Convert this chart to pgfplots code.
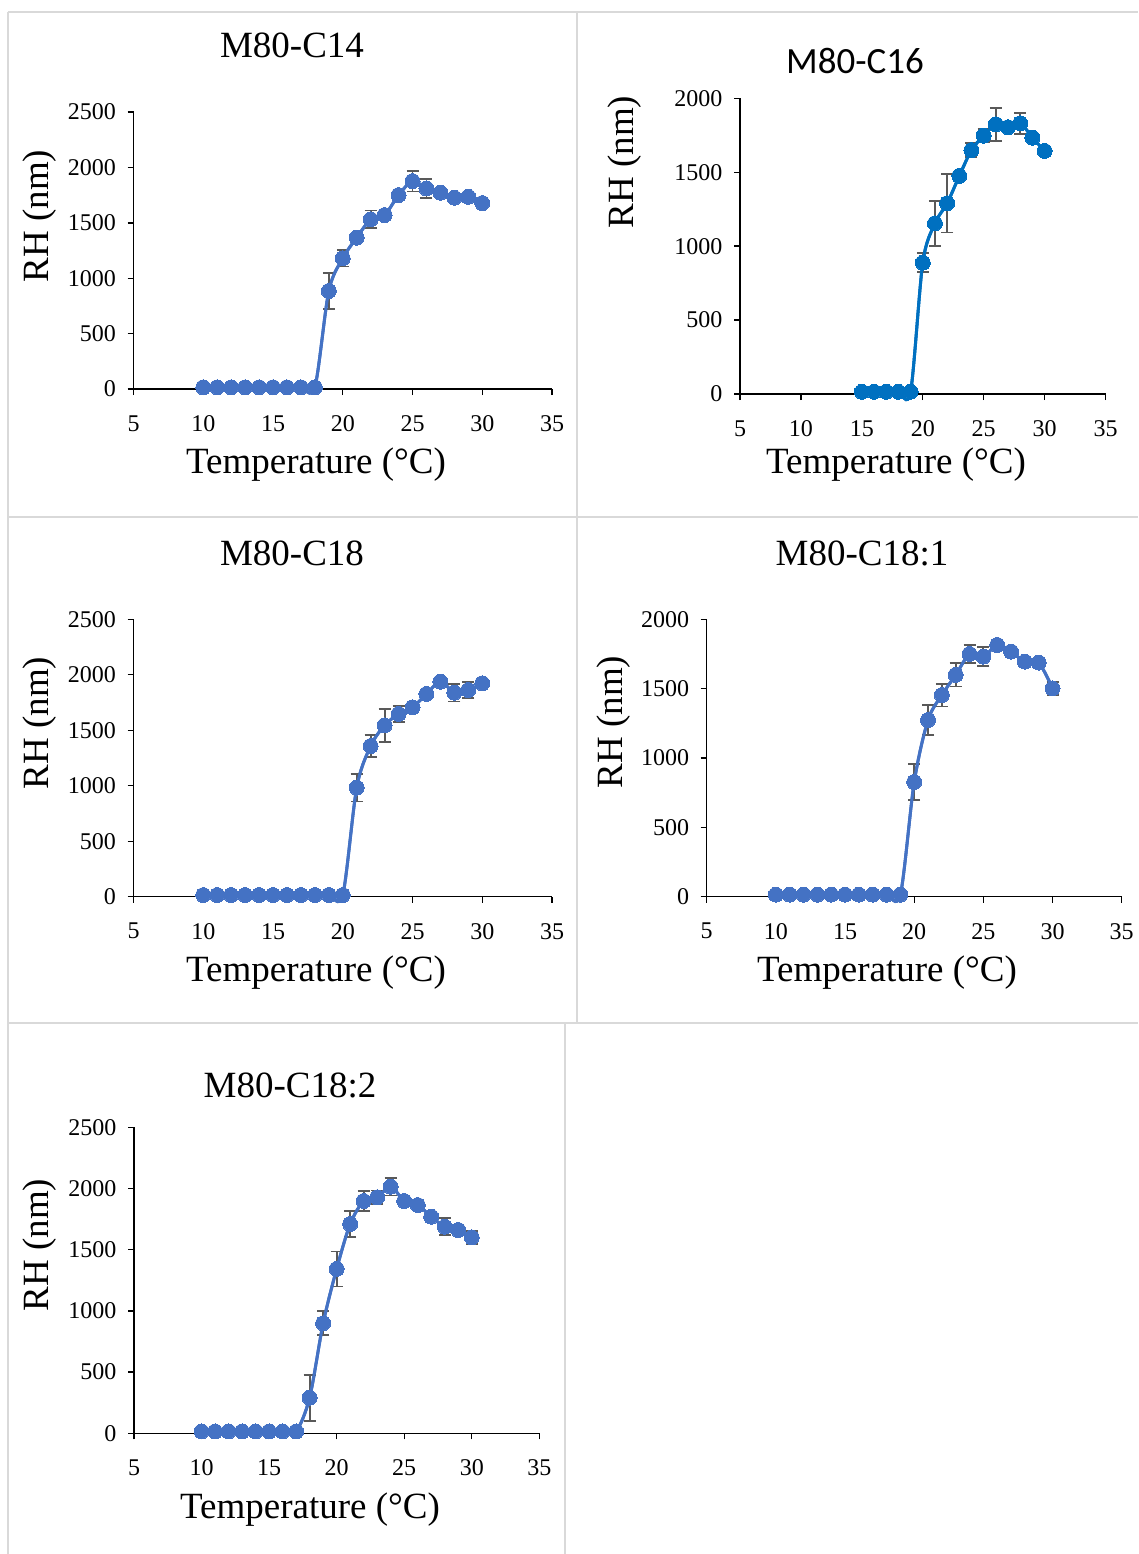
\documentclass[border=0pt]{standalone}
\usepackage{fontspec}
\setmainfont{Liberation Serif}
\newfontfamily\carlito{Carlito}
\usepackage{pgfplots}
\usepackage{pgfplotstable}
\pgfplotsset{compat=1.18}

\definecolor{ptblue}{HTML}{4472C4}
\definecolor{ptbluetwo}{HTML}{0070C0}
\definecolor{errgray}{HTML}{595959}
\definecolor{cellgray}{HTML}{D9D9D9}

% temperature, RH, error
\pgfplotstableread[row sep=\\]{
x y e \\
10 15 0 \\ 11 15 0 \\ 12 15 0 \\ 13 15 0 \\ 14 15 0 \\
15 15 0 \\ 16 15 0 \\ 17 15 0 \\ 18 15 0 \\
19 885 165 \\ 20 1180 75 \\ 21 1366 20 \\ 22 1531 80 \\
23 1570 20 \\ 24 1750 20 \\ 25 1876 93 \\ 26 1810 87 \\
27 1771 20 \\ 28 1726 20 \\ 29 1735 20 \\ 30 1678 20 \\
}\cfourteen
\pgfplotstableread[row sep=\\]{
x y e \\
15 15 0 \\ 16 15 0 \\ 17 15 0 \\ 18 15 0 \\ 19 15 0 \\
20 888 63 \\ 21 1154 154 \\ 22 1290 198 \\ 23 1475 20 \\
24 1650 47 \\ 25 1747 45 \\ 26 1824 113 \\ 27 1804 20 \\
28 1831 72 \\ 29 1734 20 \\ 30 1644 20 \\
}\csixteen
\pgfplotstableread[row sep=\\]{
x y e \\
10 15 0 \\ 11 15 0 \\ 12 15 0 \\ 13 15 0 \\ 14 15 0 \\
15 15 0 \\ 16 15 0 \\ 17 15 0 \\ 18 15 0 \\ 19 15 0 \\ 20 15 0 \\
21 983 125 \\ 22 1358 102 \\ 23 1544 149 \\ 24 1647 75 \\
25 1707 30 \\ 26 1827 20 \\ 27 1938 20 \\ 28 1839 80 \\
29 1863 75 \\ 30 1923 20 \\
}\ceighteen
\pgfplotstableread[row sep=\\]{
x y e \\
10 15 0 \\ 11 15 0 \\ 12 15 0 \\ 13 15 0 \\ 14 15 0 \\
15 15 0 \\ 16 15 0 \\ 17 15 0 \\ 18 15 0 \\ 19 15 0 \\
20 827 132 \\ 21 1274 109 \\ 22 1454 82 \\ 23 1599 84 \\
24 1750 65 \\ 25 1731 70 \\ 26 1815 20 \\ 27 1767 20 \\
28 1695 20 \\ 29 1688 20 \\ 30 1502 48 \\
}\ceighteenone
\pgfplotstableread[row sep=\\]{
x y e \\
10 15 0 \\ 11 15 0 \\ 12 15 0 \\ 13 15 0 \\ 14 15 0 \\
15 15 0 \\ 16 15 0 \\ 17 15 0 \\
18 291 188 \\ 19 899 98 \\ 20 1343 143 \\ 21 1710 105 \\
22 1898 83 \\ 23 1928 55 \\ 24 2015 72 \\ 25 1898 20 \\
26 1865 20 \\ 27 1770 20 \\ 28 1688 68 \\ 29 1661 20 \\ 30 1601 53 \\
}\ceighteentwo

\pgfplotsset{
  rhpanel/.style={
    scale only axis, anchor=south west,
    axis x line=bottom, axis y line=left,
    axis line style={-, line width=1.4pt, black},
    xmin=5, xmax=35, xtick={5,10,...,35},
    ymin=0,
    tick align=outside, major tick length=6pt,
    every tick/.style={black, line width=1.4pt},
    tick label style={font=\fontsize{24}{24}\selectfont},
    /pgf/number format/assume math mode=true,
    /pgf/number format/1000 sep={},
    xticklabel style={yshift=-17pt},
    yticklabel style={xshift=-8pt},
    clip=false,
  },
  errs/.style={smooth, line width=3pt, color=#1, mark=none,
    error bars/.cd, y dir=both, y explicit,
    error bar style={line width=1.8pt, errgray},
    error mark options={errgray, line width=1.8pt, mark size=6pt, rotate=90}},
  pts/.style={smooth, line width=3pt, color=#1, mark=*, mark size=7.5pt,
    mark options={fill=#1, draw=#1, line width=0pt}},
}

\begin{document}
\begin{tikzpicture}
\useasboundingbox (0pt,0pt) rectangle (1138pt,-1554pt);

% cell borders
\draw[cellgray, line width=2.5pt] (8pt,-12pt) -- (1138pt,-12pt);
\draw[cellgray, line width=2.5pt] (8pt,-517pt) -- (1138pt,-517pt);
\draw[cellgray, line width=2.5pt] (8pt,-1023pt) -- (1138pt,-1023pt);
\draw[cellgray, line width=2.5pt] (8pt,-12pt) -- (8pt,-1554pt);
\draw[cellgray, line width=2.5pt] (577pt,-12pt) -- (577pt,-1023pt);
\draw[cellgray, line width=2.5pt] (565pt,-1023pt) -- (565pt,-1554pt);

% M80-C14
\begin{axis}[rhpanel, at={(133.5pt,-389pt)}, width=418.5pt, height=277pt,
  ymax=2500, ytick={0,500,...,2500}]
\addplot[errs=ptblue] table[x=x, y=y, y error=e] {\cfourteen};
\addplot[pts=ptblue] table[x=x, y=y] {\cfourteen};
\end{axis}

% M80-C16
\begin{axis}[rhpanel, at={(740pt,-394pt)}, width=365.5pt, height=295.7pt,
  ymax=2000, ytick={0,500,...,2000}]
\addplot[errs=ptbluetwo] table[x=x, y=y, y error=e] {\csixteen};
\addplot[pts=ptbluetwo] table[x=x, y=y] {\csixteen};
\end{axis}

% M80-C18
\begin{axis}[rhpanel, at={(133.5pt,-896.7pt)}, width=418.5pt, height=277.4pt,
  ymax=2500, ytick={0,500,...,2500}]
\addplot[errs=ptblue] table[x=x, y=y, y error=e] {\ceighteen};
\addplot[pts=ptblue] table[x=x, y=y] {\ceighteen};
\end{axis}

% M80-C18:1
\begin{axis}[rhpanel, at={(706.7pt,-896.7pt)}, width=415pt, height=277.4pt,
  ymax=2000, ytick={0,500,...,2000}]
\addplot[errs=ptblue] table[x=x, y=y, y error=e] {\ceighteenone};
\addplot[pts=ptblue] table[x=x, y=y] {\ceighteenone};
\end{axis}

% M80-C18:2
\begin{axis}[rhpanel, at={(134pt,-1433.3pt)}, width=405.3pt, height=306pt,
  ymax=2500, ytick={0,500,...,2500}]
\addplot[errs=ptblue] table[x=x, y=y, y error=e] {\ceighteentwo};
\addplot[pts=ptblue] table[x=x, y=y] {\ceighteentwo};
\end{axis}

% titles and axis labels
\tikzset{big/.style={inner sep=0pt, font=\fontsize{37}{37}\selectfont}}
\node[big] at (292pt,-45pt) {M80-C14};
\node[big, font=\carlito\fontsize{37}{37}\selectfont] at (855pt,-61pt) {M80-C16};
\node[big] at (292pt,-553pt) {M80-C18};
\node[big] at (862pt,-553pt) {M80-C18:1};
\node[big] at (290pt,-1085pt) {M80-C18:2};

\node[big] at (316pt,-465pt) {Temperature (°C)};
\node[big] at (896pt,-465pt) {Temperature (°C)};
\node[big] at (316pt,-973pt) {Temperature (°C)};
\node[big] at (887pt,-973pt) {Temperature (°C)};
\node[big] at (310pt,-1510pt) {Temperature (°C)};

\node[big, rotate=90] at (40pt,-216pt) {RH (nm)};
\node[big, rotate=90] at (625pt,-162pt) {RH (nm)};
\node[big, rotate=90] at (40pt,-723pt) {RH (nm)};
\node[big, rotate=90] at (614pt,-722pt) {RH (nm)};
\node[big, rotate=90] at (40pt,-1245pt) {RH (nm)};
\end{tikzpicture}
\end{document}
